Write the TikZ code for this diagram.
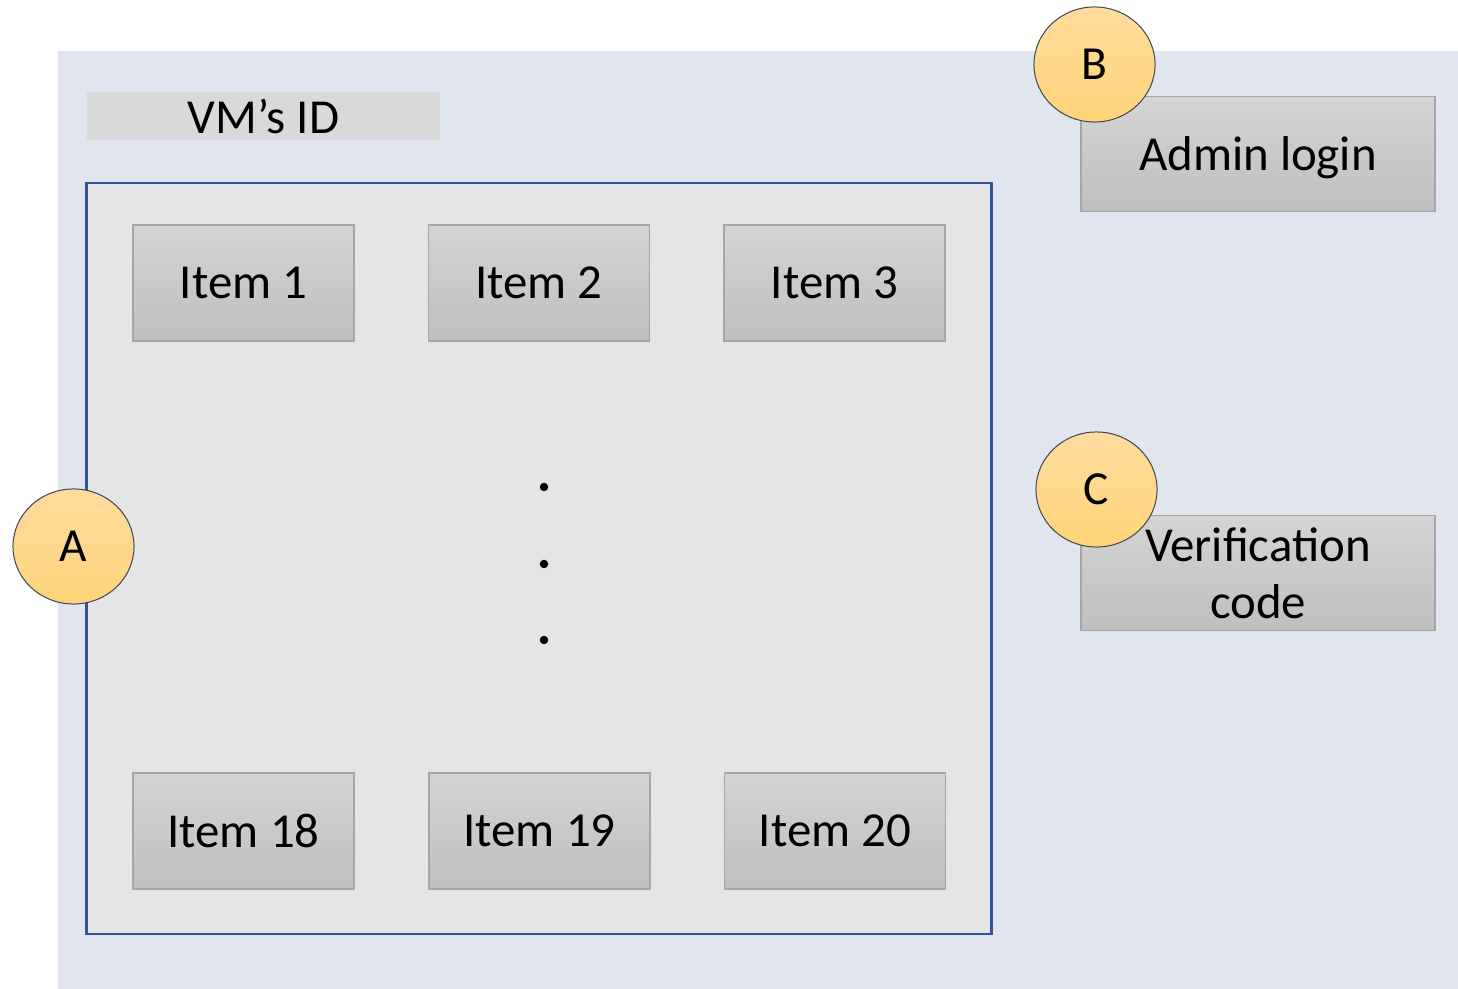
\documentclass[tikz,border=0pt]{standalone}
\usepackage{fontspec}
\setmainfont{Carlito}
\usetikzlibrary{shapes.geometric}
\definecolor{bgblue}{HTML}{E1E5EE}
\definecolor{idgray}{HTML}{D9D9D9}
\definecolor{innergray}{HTML}{E5E5E5}
\definecolor{innerline}{HTML}{2F5597}
\definecolor{itemtop}{HTML}{D4D4D4}
\definecolor{itembot}{HTML}{BFBFBF}
\definecolor{itemline}{HTML}{A6A6A6}
\definecolor{badgetop}{HTML}{FFDC9E}
\definecolor{badgebot}{HTML}{FFD478}
\definecolor{badgeline}{HTML}{3A4658}
\tikzset{
  itembox/.style={draw=itemline, line width=0.13mm, top color=itemtop, bottom color=itembot,
    minimum width=2.21cm, minimum height=1.16cm, inner sep=0pt, align=center,
    font=\fontsize{13.9pt}{16.2pt}\selectfont},
  sidebox/.style={itembox, minimum width=3.54cm, minimum height=1.15cm},
  badge/.style={ellipse, draw=badgeline, line width=0.1mm, top color=badgetop, bottom color=badgebot,
    minimum width=1.21cm, minimum height=1.15cm, inner sep=0pt,
    font=\fontsize{13.5pt}{16pt}\selectfont},
  vdot/.style={circle, fill=black, minimum size=0.085cm, inner sep=0pt},
}
\begin{document}
\begin{tikzpicture}[x=0.01cm, y=-0.01cm]
\useasboundingbox (0,0) rectangle (1458,989);
\node[fill=bgblue, minimum width=14.01cm, minimum height=9.39cm, inner sep=0pt, anchor=north west] (bg) at (57,50) {};
\node[fill=idgray, minimum width=3.53cm, minimum height=0.48cm, inner sep=0pt,
  font=\fontsize{13.9pt}{16.2pt}\selectfont] (vmid) at (263.5,116) {VM’s ID};
\node[fill=innergray, draw=innerline, line width=0.25mm, minimum width=9.04cm, minimum height=7.51cm,
  inner sep=0pt] (inner) at (539,558.5) {};
\node[itembox] (i1) at (243.5,283) {Item 1};
\node[itembox] (i2) at (539,283) {Item 2};
\node[itembox] (i3) at (834.5,283) {Item 3};
\node[itembox] (i18) at (243.5,831) {Item 18};
\node[itembox] (i19) at (539.5,831) {Item 19};
\node[itembox] (i20) at (835,831) {Item 20};
\node[vdot] (d1) at (544,487) {};
\node[vdot] (d2) at (544,564) {};
\node[vdot] (d3) at (544,640) {};
\node[sidebox, text depth=0pt] (admin) at (1258,154) {Admin login};
\node[sidebox] (verif) at (1258,573) {Verification\\code};
\node[badge] (A) at (73.5,546.5) {A};
\node[badge] (B) at (1094.5,64.5) {B};
\node[badge] (C) at (1096.5,489.5) {C};
\end{tikzpicture}
\end{document}
